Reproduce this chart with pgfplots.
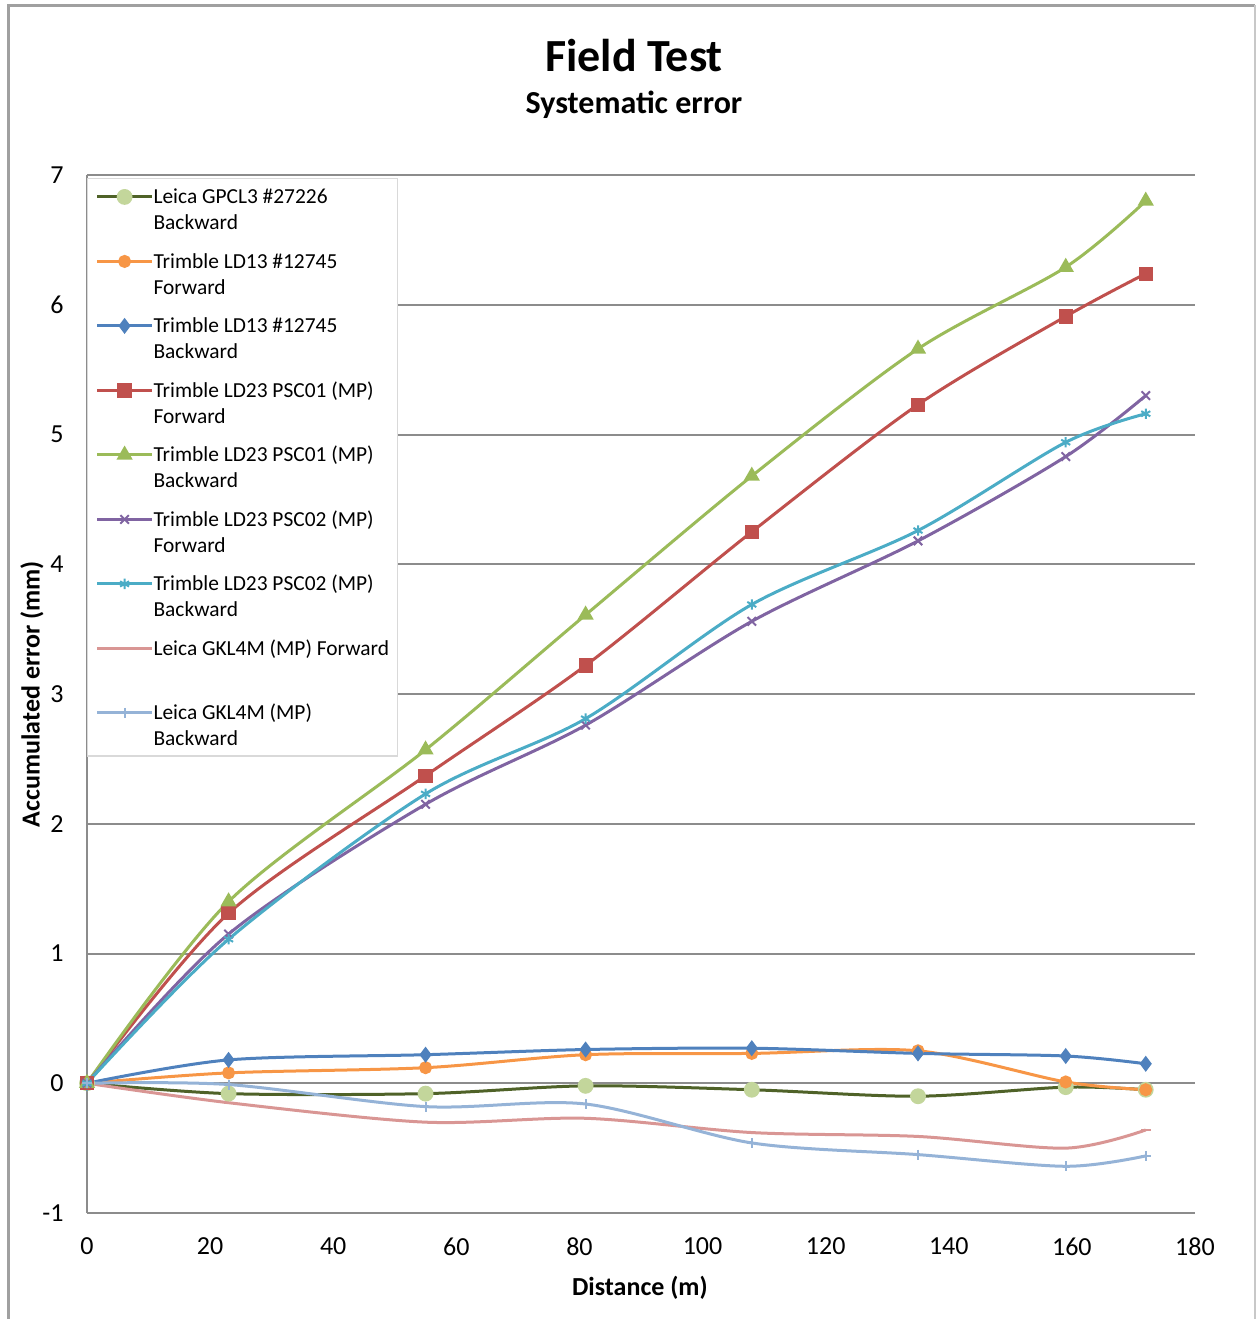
\documentclass[border=0pt]{standalone}
\usepackage{fontspec}
\setmainfont{Carlito}
\usepackage{pgfplots}
\pgfplotsset{compat=1.18}
\definecolor{cOlive}{RGB}{79,98,40}
\definecolor{cLGreen}{RGB}{195,214,155}
\definecolor{cOrange}{RGB}{247,150,70}
\definecolor{cBlue}{RGB}{79,129,189}
\definecolor{cRed}{RGB}{192,80,77}
\definecolor{cGreen}{RGB}{155,187,89}
\definecolor{cPurple}{RGB}{128,100,162}
\definecolor{cTeal}{RGB}{75,172,198}
\definecolor{cPink}{RGB}{217,150,148}
\definecolor{cLBlue}{RGB}{149,179,215}
\definecolor{gridgray}{RGB}{140,140,140}
\definecolor{framegray}{RGB}{160,160,160}
\definecolor{framelight}{RGB}{200,200,200}
\definecolor{legendgray}{RGB}{217,217,217}
\newcommand{\legtext}[1]{\parbox[b]{116pt}{\raggedright\strut #1}}
\begin{document}
\begin{tikzpicture}
\useasboundingbox (-43.5pt,-53pt) rectangle (585pt,606.5pt);
\draw[color=framegray, line width=1.5pt] (-39pt,-53pt) -- (-39pt,603.75pt) -- (584pt,603.75pt);
\draw[color=framelight, line width=0.6pt] (584pt,603.75pt) -- (584pt,-53pt);
\begin{axis}[
  scale only axis, width=554pt, height=519pt,
  xmin=0, xmax=180, ymin=-1, ymax=7,
  xtick={0,20,...,180}, ytick={-1,0,...,7},
  ymajorgrids, grid style={gridgray, line width=1pt},
  axis lines*=left,
  axis line style={gridgray, line width=1pt},
  major tick length=0pt,
  tick label style={font=\fontsize{13}{15}\selectfont},
  yticklabel style={xshift=-8.2pt},
  xticklabel style={yshift=-9pt},
  /pgf/number format/assume math mode=true,
  xlabel={Distance (m)}, ylabel={Accumulated error (mm)},
  every axis x label/.style={at={(axis description cs:0.499,-0.0723)}, anchor=center, font=\fontsize{13}{15}\selectfont\bfseries},
  every axis y label/.style={at={(axis description cs:-0.0496,0.5)}, rotate=90, anchor=center, font=\fontsize{13}{15}\selectfont\bfseries},
  every axis plot/.append style={smooth, line width=1.5pt},
  legend image code/.code={\draw[mark repeat=2,mark phase=2,#1] plot coordinates {(0pt,0pt) (13.75pt,0pt) (27.5pt,0pt)};},
  legend image post style={yshift=16.5pt},
  legend style={at={(0,0.997)}, anchor=north west, draw=legendgray, line width=0.6pt,
    fill=white, inner xsep=4pt, inner ysep=1.5pt,
    font=\fontsize{10.7}{13}\selectfont, row sep={32.25pt,between origins}, column sep=-2pt,
    cells={anchor=base west, inner xsep=0pt, inner ysep=0pt}},
]
\addplot[color=cOlive, mark=*, mark size=3.2pt, mark options={fill=cLGreen, draw=cLGreen}]
  coordinates {(0,0)(23,-0.08)(55,-0.08)(81,-0.02)(108,-0.05)(135,-0.10)(159,-0.03)(172,-0.05)};
\addlegendentry{\legtext{Leica GPCL3 \#27226\\Backward}}
\addplot[color=cOrange, mark=*, mark size=2.5pt, mark options={fill=cOrange}]
  coordinates {(0,0)(23,0.08)(55,0.12)(81,0.22)(108,0.23)(135,0.25)(159,0.01)(172,-0.05)};
\addlegendentry{\legtext{Trimble LD13 \#12745\\Forward}}
\addplot[color=cBlue, mark=diamond*, mark size=2.8pt, mark options={fill=cBlue}]
  coordinates {(0,0)(23,0.18)(55,0.22)(81,0.26)(108,0.27)(135,0.23)(159,0.21)(172,0.15)};
\addlegendentry{\legtext{Trimble LD13 \#12745\\Backward}}
\addplot[color=cRed, mark=square*, mark size=2.8pt, mark options={fill=cRed}]
  coordinates {(0,0)(23,1.31)(55,2.37)(81,3.22)(108,4.25)(135,5.23)(159,5.91)(172,6.24)};
\addlegendentry{\legtext{Trimble LD23 PSC01 (MP)\\Forward}}
\addplot[color=cGreen, mark=triangle*, mark size=3.2pt, mark options={fill=cGreen}]
  coordinates {(0,0)(23,1.40)(55,2.57)(81,3.61)(108,4.68)(135,5.66)(159,6.29)(172,6.80)};
\addlegendentry{\legtext{Trimble LD23 PSC01 (MP)\\Backward}}
\addplot[color=cPurple, mark=x, mark size=3pt, mark options={line width=1pt}]
  coordinates {(0,0)(23,1.15)(55,2.15)(81,2.76)(108,3.56)(135,4.18)(159,4.83)(172,5.30)};
\addlegendentry{\legtext{Trimble LD23 PSC02 (MP)\\Forward}}
\addplot[color=cTeal, mark=asterisk, mark size=2.6pt, mark options={line width=1pt}]
  coordinates {(0,0)(23,1.11)(55,2.23)(81,2.81)(108,3.69)(135,4.26)(159,4.94)(172,5.16)};
\addlegendentry{\legtext{Trimble LD23 PSC02 (MP)\\Backward}}
\addplot[color=cPink, mark=-, mark size=2.5pt, mark options={line width=1pt}]
  coordinates {(0,0)(23,-0.15)(55,-0.30)(81,-0.27)(108,-0.38)(135,-0.41)(159,-0.50)(172,-0.36)};
\addlegendentry{\legtext{\mbox{Leica GKL4M (MP) Forward}\\\mbox{}}}
\addplot[color=cLBlue, mark=+, mark size=2.5pt, mark options={line width=1pt}]
  coordinates {(0,0)(23,-0.01)(55,-0.18)(81,-0.16)(108,-0.46)(135,-0.55)(159,-0.64)(172,-0.56)};
\addlegendentry{\legtext{Leica GKL4M (MP)\\Backward}}
\end{axis}
\node[font=\fontsize{23}{28}\selectfont\bfseries, anchor=base] at (273.5pt,570.5pt) {Field Test};
\node[font=\fontsize{16}{19}\selectfont\bfseries, anchor=base] at (273.5pt,549.5pt) {Systematic error};
\end{tikzpicture}
\end{document}
